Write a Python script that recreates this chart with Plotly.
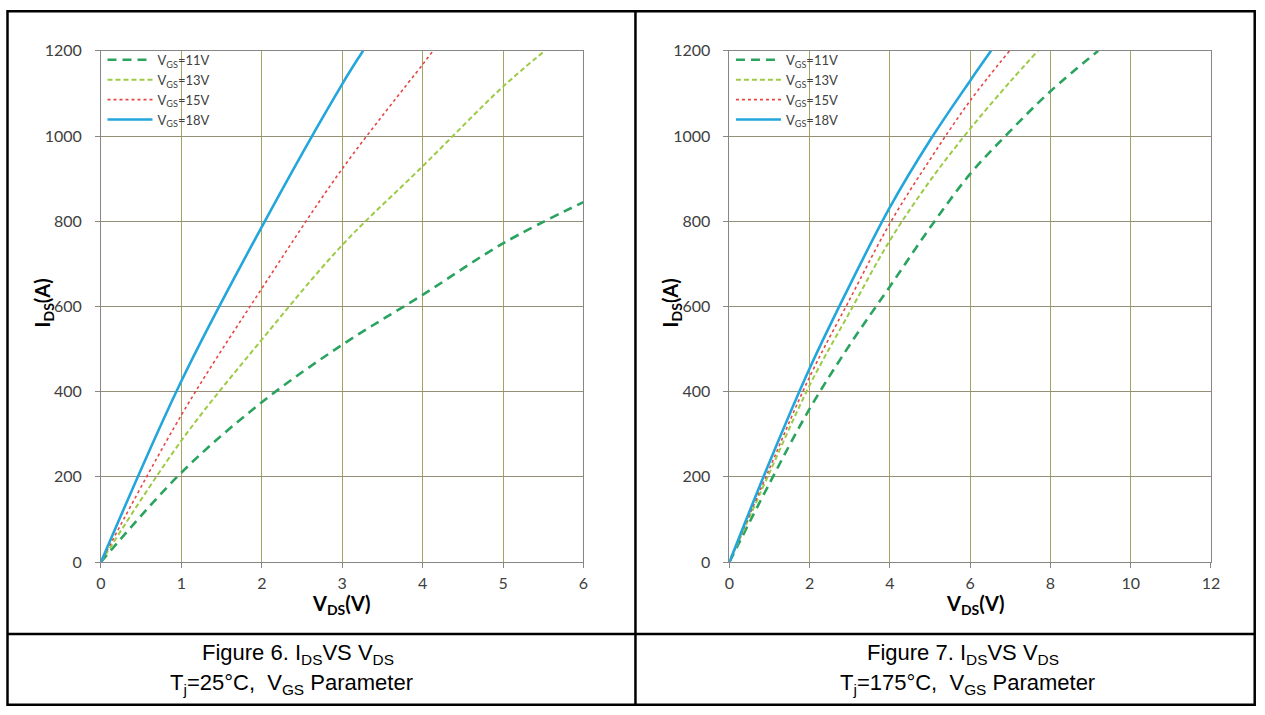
import plotly.graph_objects as go

# Figure size; helpers map target picture pixels to paper fractions
# (the photographed page shows a slight scale/offset that is compensated here).
W, H = 1265, 715
SX, OX = 0.989, 4.5
SY, OY = 0.975, 9.1


def px(x):
    return ((x - OX) / SX) / W


def py(y):
    return 1 - ((y - OY) / SY) / H


# ---------------- data ----------------
series_names = ["V<sub>GS</sub>=11V", "V<sub>GS</sub>=13V", "V<sub>GS</sub>=15V", "V<sub>GS</sub>=18V"]

# Figure 6, Tj = 25 C
t25_vds_11 = [0, 1, 2, 3, 4, 5, 6]
t25_ids_11 = [0, 210, 375, 510, 627, 748, 845]
t25_vds_13 = [0, 1, 2, 3, 4, 5, 5.52]
t25_ids_13 = [0, 285, 522, 744, 929, 1116, 1200]
t25_vds_15 = [0, 1, 2, 3, 4, 4.13]
t25_ids_15 = [0, 345, 642, 923, 1168, 1200]
t25_vds_18 = [0, 1, 2, 3, 3.26]
t25_ids_18 = [0, 425, 787, 1122, 1200]

# Figure 7, Tj = 175 C
t175_vds_11 = [0, 1, 2, 3, 4, 5, 6, 7, 8, 9.19]
t175_ids_11 = [0, 185, 360, 510, 647, 785, 911, 1012, 1105, 1200]
t175_vds_13 = [0, 1, 2, 3, 4, 5, 6, 7, 7.69]
t175_ids_13 = [0, 210, 415, 587, 755, 895, 1017, 1128, 1200]
t175_vds_15 = [0, 1, 2, 3, 4, 5, 6, 6.98]
t175_ids_15 = [0, 220, 435, 617, 795, 945, 1083, 1200]
t175_vds_18 = [0, 1, 2, 3, 4, 5, 6, 6.52]
t175_ids_18 = [0, 235, 455, 650, 833, 990, 1130, 1200]

y_ticks = [0, 200, 400, 600, 800, 1000, 1200]
x_ticks_25 = [0, 1, 2, 3, 4, 5, 6]
x_ticks_175 = [0, 2, 4, 6, 8, 10, 12]

# ---------------- styles ----------------
styles = [
    dict(color="#2AA35F", width=2.6, dash="9px,6px"),
    dict(color="#9CCB45", width=2.0, dash="5px,3px"),
    dict(color="#E84545", width=1.6, dash="dot"),
    dict(color="#22A6DC", width=2.6, dash="solid"),
]

fig = go.Figure()

sets25 = [(t25_vds_11, t25_ids_11), (t25_vds_13, t25_ids_13),
          (t25_vds_15, t25_ids_15), (t25_vds_18, t25_ids_18)]
sets175 = [(t175_vds_11, t175_ids_11), (t175_vds_13, t175_ids_13),
           (t175_vds_15, t175_ids_15), (t175_vds_18, t175_ids_18)]

for name, (xv, yv), st in zip(series_names, sets25, styles):
    fig.add_trace(go.Scatter(x=xv, y=yv, mode="lines", name=name, line=st,
                             line_shape="spline", xaxis="x", yaxis="y",
                             legend="legend"))
for name, (xv, yv), st in zip(series_names, sets175, styles):
    fig.add_trace(go.Scatter(x=xv, y=yv, mode="lines", name=name, line=st,
                             line_shape="spline", xaxis="x2", yaxis="y2",
                             legend="legend2"))

tickfont = dict(family="Lato", size=16, color="#404040")
axis_common = dict(showline=True, linecolor="#868686", linewidth=1, mirror=True,
                   ticks="outside", ticklen=5, tickcolor="#868686",
                   tickfont=tickfont, zeroline=False, showgrid=True, gridwidth=1)

legend_font = dict(family="Lato", size=13, color="#404040")
fig.update_layout(
    width=W, height=H,
    margin=dict(l=0, r=0, t=0, b=0),
    paper_bgcolor="white", plot_bgcolor="white",
    xaxis=dict(domain=[px(100.5), px(583)], range=[0, 6], tickvals=x_ticks_25,
               gridcolor="#A8A262", anchor="y", ticklabelstandoff=2, **axis_common),
    yaxis=dict(domain=[py(562), py(50)], range=[0, 1200], tickvals=y_ticks,
               gridcolor="#968F78", anchor="x", ticklabelstandoff=10, **axis_common),
    xaxis2=dict(domain=[px(729), px(1210.5)], range=[0, 12], tickvals=x_ticks_175,
                gridcolor="#A8A262", anchor="y2", ticklabelstandoff=2, **axis_common),
    yaxis2=dict(domain=[py(562), py(50)], range=[0, 1200], tickvals=y_ticks,
                gridcolor="#968F78", anchor="x2", ticklabelstandoff=10, **axis_common),
    legend=dict(x=px(102), y=py(44), xanchor="left", yanchor="top",
                bgcolor="rgba(0,0,0,0)", borderwidth=0, itemwidth=45,
                font=legend_font, tracegroupgap=0),
    legend2=dict(x=px(730.5), y=py(44), xanchor="left", yanchor="top",
                 bgcolor="rgba(0,0,0,0)", borderwidth=0, itemwidth=45,
                 font=legend_font, tracegroupgap=0),
)

# axis titles
title_font = dict(family="Lato", size=20, color="black")
ann = []
for xc in (42.5, 670.5):
    ann.append(dict(text="<b>I<sub>DS</sub>(A)</b>", x=px(xc), y=py(302),
                    xref="paper", yref="paper", showarrow=False, textangle=-90,
                    xanchor="center", yanchor="middle", font=title_font))
for xc in (341, 975):
    ann.append(dict(text="<b>V<sub>DS</sub>(V)</b>", x=px(xc), y=py(605),
                    xref="paper", yref="paper", showarrow=False,
                    xanchor="center", yanchor="middle", font=title_font))

# captions
cap_font = dict(family="Liberation Sans, Arial", size=22, color="black")
captions = [
    ("Figure 6. I<sub>DS</sub>VS V<sub>DS</sub>", 200, 654),
    ("T<sub>j</sub>=25°C,&nbsp; V<sub>GS</sub> Parameter", 168, 684),
    ("Figure 7. I<sub>DS</sub>VS V<sub>DS</sub>", 865, 654),
    ("T<sub>j</sub>=175°C,&nbsp; V<sub>GS</sub> Parameter", 838, 684),
]
for txt, xl, yc in captions:
    ann.append(dict(text=txt, x=px(xl), y=py(yc), xref="paper", yref="paper",
                    showarrow=False, xanchor="left", yanchor="middle",
                    font=cap_font))
fig.update_layout(annotations=ann)

# table borders (paper fractions, clamped to the page) + white legend backing
line = dict(color="black", width=2.5)
bl = px(7)
br = 1263.7 / W
bt = 1 - 1.3 / H
bb = 1 - 713.7 / H
shapes = [
    dict(type="rect", xref="paper", yref="paper", x0=px(101), x1=px(214),
         y0=py(127), y1=py(50.5), line=dict(width=0), fillcolor="white",
         layer="between"),
    dict(type="rect", xref="paper", yref="paper", x0=px(729.5), x1=px(843),
         y0=py(127), y1=py(50.5), line=dict(width=0), fillcolor="white",
         layer="between"),
    dict(type="rect", xref="paper", yref="paper", x0=bl, x1=br,
         y0=bb, y1=bt, line=line),
    dict(type="line", xref="paper", yref="paper", x0=px(635), x1=px(635),
         y0=bb, y1=bt, line=line),
    dict(type="line", xref="paper", yref="paper", x0=bl, x1=br,
         y0=py(634), y1=py(634), line=line),
]
fig.update_layout(shapes=shapes)

fig.write_html("out.html")
